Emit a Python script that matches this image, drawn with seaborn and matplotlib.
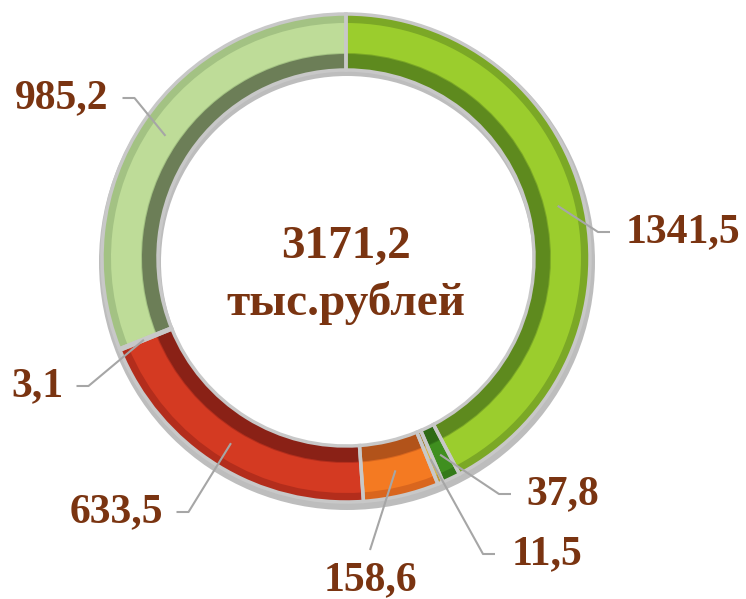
import seaborn as sns
import matplotlib.pyplot as plt
import numpy as np

sns.set_theme(style='white')
plt.rcParams['font.family'] = ['Liberation Serif', 'DejaVu Serif']

# data, clockwise from 12 o'clock
values = [1341.5, 37.8, 11.5, 158.6, 633.5, 3.1, 985.2]
face_colors = ['#9BCD2D', '#3F8F1F', '#D8B548', '#F47A22', '#D43A22', '#C4C4C4', '#BEDC98']
mid_colors = ['#7BA826', '#347A1A', '#BB9A3C', '#D9661E', '#B32D1C', '#A8A8A8', '#A3C283']
shade_colors = ['#5E8A1E', '#2D6A15', '#9E7E2E', '#B2531A', '#8A2116', '#8E8E8E', '#6C7E57']
unit = 'тыс.рублей'

# label text positions (pixels, from top-left)
label_pos = [(683, 232), (563, 494), (547, 554), (370, 580), (116, 512), (37, 386), (62, 98)]
label_side = ['left', 'left', 'left', 'up', 'right', 'right', 'right']

W, H = 746, 599
cx, cy = 346, 258
r_out, ring_w = 244, 56
text_color = '#7A3411'

fig = plt.figure(figsize=(W / 100, H / 100), dpi=100)
ax = fig.add_axes([0, 0, 1, 1])

center = (cx, H - cy)
total = sum(values)
pie_kw = dict(center=center, startangle=90, counterclock=False, frame=True)

# shadow ring
ax.pie([1], radius=r_out + 4, center=(cx + 1, H - cy - 4), colors=['#BDBDBD'],
       wedgeprops=dict(width=ring_w + 6, linewidth=0), frame=True)
# dark inner bevel
ax.pie(values, radius=r_out, colors=shade_colors,
       wedgeprops=dict(width=ring_w, linewidth=0), **pie_kw)
# outer bevel
ax.pie(values, radius=r_out, colors=mid_colors,
       wedgeprops=dict(width=ring_w - 16, linewidth=0), **pie_kw)
# lit face
ax.pie(values, radius=r_out - 9, colors=face_colors,
       wedgeprops=dict(width=ring_w - 26, linewidth=0), **pie_kw)
# separators
ax.pie(values, radius=r_out, colors=['none'] * len(values),
       wedgeprops=dict(width=ring_w, edgecolor='#C8C8C8', linewidth=2.5), **pie_kw)
ax.set_xlim(0, W)
ax.set_ylim(0, H)
ax.set_aspect('equal')
ax.axis('off')

# leader lines and labels
cum = np.cumsum([0] + values)
r_mid = r_out - ring_w / 2 + 2
for i, v in enumerate(values):
    mid = (cum[i] + cum[i + 1]) / 2
    ang = np.deg2rad(90 - mid / total * 360)
    ax_x = cx + r_mid * np.cos(ang)
    ax_y = cy - r_mid * np.sin(ang)
    tx, ty = label_pos[i]
    txt = f'{v:.1f}'.replace('.', ',')
    ax.text(tx, H - ty, txt, ha='center', va='center', fontsize=30,
            fontweight='bold', color=text_color)
    half = len(txt) * 10.5
    if label_side[i] == 'left':
        ex = tx - half - 10
        pts = [(ax_x, ax_y), (ex - 12, ty), (ex, ty)]
    elif label_side[i] == 'right':
        ex = tx + half + 8
        pts = [(ax_x, ax_y), (ex + 12, ty), (ex, ty)]
    else:
        pts = [(ax_x, ax_y), (tx, ty - 30)]
    xs = [p[0] for p in pts]
    ys = [H - p[1] for p in pts]
    ax.plot(xs, ys, color='#A6A6A6', linewidth=1.5, solid_capstyle='butt')

ax.text(cx, H - 247, f'{total:.1f}'.replace('.', ','), ha='center', va='center',
        fontsize=34, fontweight='bold', color=text_color)
ax.text(cx, H - 303, unit, ha='center', va='center',
        fontsize=34, fontweight='bold', color=text_color)

fig.savefig('out.png', dpi=100, facecolor='white')
